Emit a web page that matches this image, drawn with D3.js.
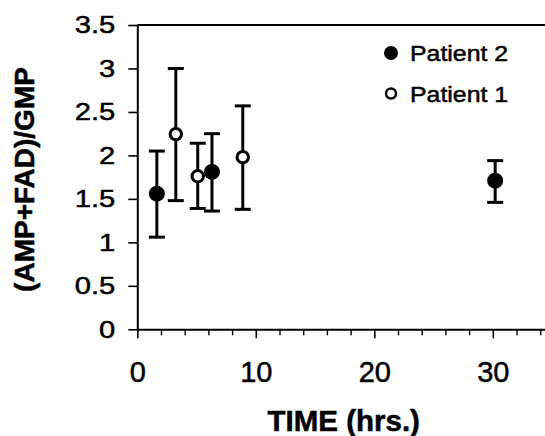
<!DOCTYPE html>
<html lang="en">
<head>
  <meta charset="UTF-8">
  <script src="https://d3js.org/d3.v7.min.js"></script>
  <title>(AMP+FAD)/GMP vs time</title>
  <style>
    body { margin: 0; background: #fff; }
    text { font-family: "Liberation Sans", Arial, Helvetica, sans-serif; fill: #000; }
    .heavy { stroke: #000; stroke-width: 0.5px; }
  </style>
</head>
<body>
  <div id="my_dataviz"></div>
  <script>

    // values
    const p2Time = [1.65, 6.3, 30.2];
    const p2Ratio = [1.56, 1.81, 1.71];
    const p2Low = [1.06, 1.36, 1.46];
    const p2High = [2.05, 2.25, 1.94];

    const p1Time = [3.25, 5.1, 8.9];
    const p1Ratio = [2.245, 1.76, 1.98];
    const p1Low = [1.48, 1.39, 1.38];
    const p1High = [3.0, 2.14, 2.57];

    const yTicks = [0, 0.5, 1, 1.5, 2, 2.5, 3, 3.5];
    const xTicks = [0, 10, 20, 30];
    const xMinorTicks = [2, 4, 6, 8, 12, 14, 16, 18, 22, 24, 26, 28, 32, 34];
    const legendLabels = ["Patient 2", "Patient 1"];

    // dimensions: the chart runs past the right edge like the scan does
    const W = 545, H = 436;
    const margin = { top: 25, left: 137.3 },
      plotBottom = 329.3;

    const svg = d3.select("#my_dataviz")
      .append("svg")
      .attr("width", W)
      .attr("height", H);

    const x = d3.scaleLinear()
      .domain([0, 35])
      .range([margin.left, margin.left + 35 * 11.85]);

    const y = d3.scaleLinear()
      .domain([0, 3.5])
      .range([plotBottom, margin.top]);

    // y axis
    const yAxis = svg.append("g")
      .attr("transform", `translate(${margin.left},0)`)
      .call(d3.axisLeft(y).tickValues(yTicks).tickSize(9).tickSizeOuter(0)
        .tickFormat(d => String(d)));
    yAxis.select(".domain").attr("stroke-width", 2);
    yAxis.selectAll(".tick line").attr("stroke-width", 1.6);
    yAxis.selectAll("text")
      .attr("x", 0)
      .attr("class", "heavy")
      .attr("transform", "translate(-22,0) scale(1.19,1)")
      .style("font-size", "24.5px");

    // x axis, major ticks with labels
    const xAxis = svg.append("g")
      .attr("transform", `translate(0,${plotBottom})`)
      .call(d3.axisBottom(x).tickValues(xTicks).tickSize(9).tickSizeOuter(0)
        .tickPadding(23).tickFormat(d3.format("d")));
    xAxis.select(".domain").attr("stroke-width", 2);
    xAxis.selectAll(".tick line").attr("stroke-width", 1.6);
    xAxis.selectAll("text")
      .attr("class", "heavy")
      .style("font-size", "29px");

    // x axis minor ticks
    const xMinor = svg.append("g")
      .attr("transform", `translate(0,${plotBottom})`)
      .call(d3.axisBottom(x).tickValues(xMinorTicks).tickSize(6).tickFormat(""));
    xMinor.select(".domain").remove();
    xMinor.selectAll(".tick line").attr("stroke-width", 1.4);

    // top frame line
    svg.append("line")
      .attr("x1", x(0)).attr("x2", x(35))
      .attr("y1", y(3.5)).attr("y2", y(3.5))
      .attr("stroke", "#000")
      .attr("stroke-width", 2);

    // axis titles
    svg.append("text")
      .attr("transform", `translate(33.5,179.5) rotate(-90)`)
      .attr("text-anchor", "middle")
      .attr("class", "heavy")
      .style("font-size", "28px")
      .style("font-weight", "bold")
      .text("(AMP+FAD)/GMP");

    svg.append("text")
      .attr("x", 343.7)
      .attr("y", 431)
      .attr("text-anchor", "middle")
      .attr("class", "heavy")
      .style("font-size", "29.5px")
      .style("font-weight", "bold")
      .text("TIME (hrs.)");

    // error bars + markers
    const capW = 8;
    function drawSeries(times, ratios, lows, highs, filled) {
      const rows = times.map((t, i) => ({ t: t, v: ratios[i], lo: lows[i], hi: highs[i] }));
      const g = svg.append("g");
      const bars = g.selectAll("g.err")
        .data(rows)
        .join("g")
        .attr("class", "err");
      bars.append("line")
        .attr("x1", d => x(d.t)).attr("x2", d => x(d.t))
        .attr("y1", d => y(d.lo)).attr("y2", d => y(d.hi))
        .attr("stroke", "#000").attr("stroke-width", 3);
      bars.append("line")
        .attr("x1", d => x(d.t) - capW).attr("x2", d => x(d.t) + capW)
        .attr("y1", d => y(d.hi)).attr("y2", d => y(d.hi))
        .attr("stroke", "#000").attr("stroke-width", 3);
      bars.append("line")
        .attr("x1", d => x(d.t) - capW).attr("x2", d => x(d.t) + capW)
        .attr("y1", d => y(d.lo)).attr("y2", d => y(d.lo))
        .attr("stroke", "#000").attr("stroke-width", 3);
      g.selectAll("circle")
        .data(rows)
        .join("circle")
        .attr("cx", d => x(d.t))
        .attr("cy", d => y(d.v))
        .attr("r", filled ? 8 : 5.7)
        .attr("fill", filled ? "#000" : "#fff")
        .attr("stroke", "#000")
        .attr("stroke-width", filled ? 0 : 3);
    }
    drawSeries(p1Time, p1Ratio, p1Low, p1High, false);
    drawSeries(p2Time, p2Ratio, p2Low, p2High, true);

    // legend
    const legend = svg.append("g");
    legend.append("circle")
      .attr("cx", 391).attr("cy", 53).attr("r", 7)
      .attr("fill", "#000");
    legend.append("circle")
      .attr("cx", 391).attr("cy", 93.5).attr("r", 5)
      .attr("fill", "#fff").attr("stroke", "#000").attr("stroke-width", 2.5);
    legend.selectAll("text")
      .data(legendLabels)
      .join("text")
      .attr("class", "heavy")
      .attr("transform", (d, i) => `translate(410,${60.5 + i * 41}) scale(1.13,1)`)
      .style("font-size", "22px")
      .text(d => d);

  </script>
</body>
</html>
